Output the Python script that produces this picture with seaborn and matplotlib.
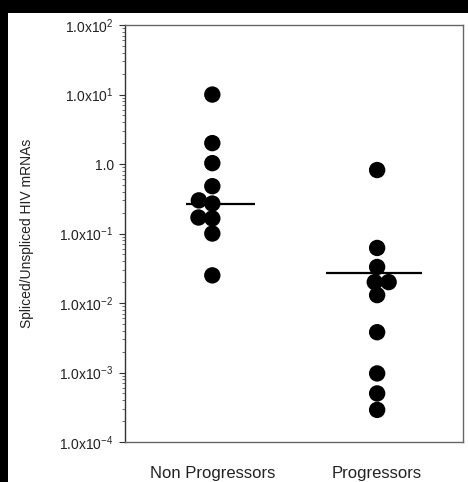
import numpy as np
import pandas as pd
import matplotlib
matplotlib.use("Agg")
import matplotlib.pyplot as plt
import seaborn as sns
from matplotlib.patches import Rectangle
from matplotlib.collections import PathCollection
from matplotlib.ticker import FixedLocator, LogLocator, NullFormatter

# ---- data ----
categories = ["Non Progressors", "Progressors"]
non_progressors = [10.0, 2.0, 1.03, 0.48, 0.30, 0.27, 0.17, 0.165, 0.10, 0.025]
progressors = [0.82, 0.062, 0.033, 0.020, 0.020, 0.013, 0.0038, 0.00097, 0.00050, 0.00029]
medians = [0.27, 0.027]
ytick_values = [1e-4, 1e-3, 1e-2, 1e-1, 1, 10, 100]
ytick_labels = [r"1.0x10$^{-4}$", r"1.0x10$^{-3}$", r"1.0x10$^{-2}$",
                r"1.0x10$^{-1}$", "1.0", r"1.0x10$^{1}$", r"1.0x10$^{2}$"]
ylabel = "Spliced/Unspliced HIV mRNAs"

df = pd.DataFrame({
    "group": [categories[0]] * len(non_progressors) + [categories[1]] * len(progressors),
    "ratio": non_progressors + progressors,
})

sns.set_theme(style="white")
plt.rcParams["font.family"] = ["Liberation Sans", "DejaVu Sans"]
plt.rcParams["mathtext.fontset"] = "custom"
plt.rcParams["mathtext.rm"] = "Liberation Sans"
plt.rcParams["mathtext.it"] = "Liberation Sans"

fig = plt.figure(figsize=(4.68, 4.82), dpi=100)
fig.patch.set_facecolor("white")
# scanned black border at top and left
fig.patches.append(Rectangle((0, 0.973), 1, 0.027, transform=fig.transFigure,
                             facecolor="black", edgecolor="none", zorder=0))
fig.patches.append(Rectangle((0, 0), 0.017, 1, transform=fig.transFigure,
                             facecolor="black", edgecolor="none", zorder=0))

ax = fig.add_axes([0.267, 0.083, 0.722, 0.865])
ax.set_yscale("log")

# swarm layout computed with a slightly smaller marker (dots in the original overlap a bit)
sns.swarmplot(data=df, x="group", y="ratio", order=categories, ax=ax,
              color="black", size=9.5, linewidth=0)
ax.set_yscale("log")
ax.set_ylim(1e-4, 1e2)
ax.set_xlim(-0.53, 1.52)

# median lines
half = [(-0.16, 0.26), (-0.31, 0.27)]
for i, m in enumerate(medians):
    ax.hlines(m, i + half[i][0], i + half[i][1], color="black", lw=1.6, zorder=1)

ax.yaxis.set_major_locator(FixedLocator(ytick_values))
ax.set_yticklabels(ytick_labels, fontsize=10)
ax.yaxis.set_minor_locator(LogLocator(base=10, subs=np.arange(2, 10), numticks=20))
ax.yaxis.set_minor_formatter(NullFormatter())
ax.tick_params(axis="y", which="major", direction="out", length=4, width=0.8,
               left=True, colors="#333333", labelcolor="#222222", pad=4)
ax.tick_params(axis="y", which="minor", direction="out", length=2, width=0.6,
               left=True, color="#555555")
ax.tick_params(axis="x", length=0, labelsize=12, labelcolor="#222222", pad=17)

ax.set_xlabel("")
ax.set_ylabel(ylabel, fontsize=10, color="#222222")
ax.yaxis.set_label_coords(-0.27, 0.5)

for name, sp in ax.spines.items():
    sp.set_visible(True)
    sp.set_linewidth(1.0)
    sp.set_color("#666666" if name != "left" else "#333333")

# freeze the swarm positions, then draw the dots at their real size
fig.canvas.draw()
for coll in ax.collections:
    if isinstance(coll, PathCollection):
        if "draw" in coll.__dict__:
            del coll.draw
        coll.set_sizes(np.full(len(coll.get_offsets()), 11.8 ** 2))

fig.savefig("out.png", dpi=100, facecolor=fig.get_facecolor())
